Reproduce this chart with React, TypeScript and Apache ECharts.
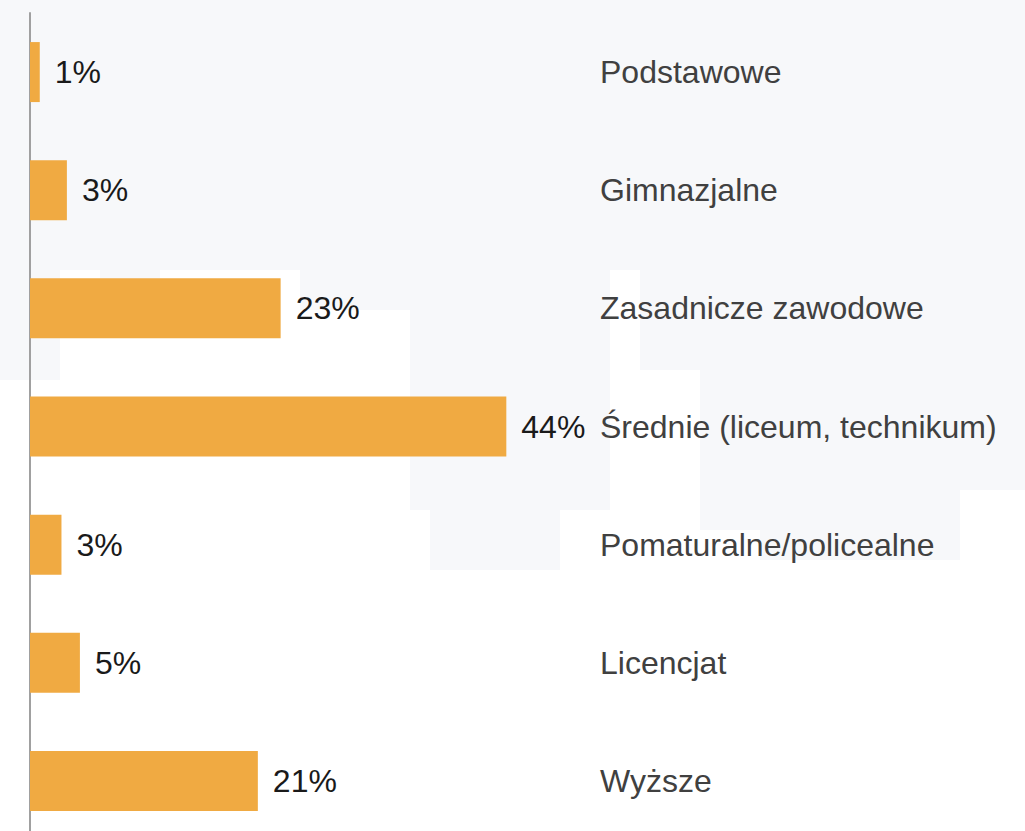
import React, { useEffect, useRef } from "react";
import * as echarts from "echarts";

const categories = [
  "Podstawowe",
  "Gimnazjalne",
  "Zasadnicze zawodowe",
  "Średnie (liceum, technikum)",
  "Pomaturalne/policealne",
  "Licencjat",
  "Wyższe",
];
const values = [0.9, 3.4, 23.1, 43.9, 2.9, 4.6, 21.0];

const SKY = "#f7f8fa";

export default function App() {
  const ref = useRef<HTMLDivElement>(null);
  useEffect(() => {
    if (!ref.current) return;
    const chart = echarts.init(ref.current, null, { renderer: "svg" });
    const sky = (x: number, y: number, w: number, h: number) => ({
      type: "rect",
      z: -10,
      silent: true,
      shape: { x, y, width: w, height: h },
      style: { fill: SKY },
    });
    chart.setOption({
      animation: false,
      backgroundColor: "#ffffff",
      graphic: [
        sky(0, 0, 1025, 270),
        sky(0, 270, 60, 110),
        sky(100, 270, 60, 60),
        sky(300, 270, 120, 40),
        sky(410, 270, 200, 240),
        sky(430, 510, 130, 60),
        sky(640, 270, 385, 100),
        sky(700, 370, 260, 160),
        sky(760, 530, 200, 30),
        sky(960, 370, 65, 120),
      ],
      grid: { left: 30, top: 13, height: 827, width: 542.5, containLabel: false },
      xAxis: {
        type: "value",
        min: 0,
        max: 50,
        show: false,
      },
      yAxis: {
        type: "category",
        inverse: true,
        data: categories,
        axisLine: { show: true, lineStyle: { color: "#a0a0a0", width: 2 } },
        axisTick: { show: false },
        splitLine: { show: false },
        axisLabel: {
          margin: -570,
          align: "left",
          color: "#404040",
          fontSize: 32,
          fontFamily: "Liberation Sans, Arial, sans-serif",
        },
      },
      series: [
        {
          type: "bar",
          data: values,
          barWidth: 60,
          itemStyle: { color: "#f0aa42" },
          label: {
            show: true,
            position: "right",
            distance: 15,
            color: "#1a1a1a",
            fontSize: 32,
            fontFamily: "Liberation Sans, Arial, sans-serif",
            formatter: (p: any) => Math.round(p.value) + "%",
          },
        },
      ],
    });
    return () => chart.dispose();
  }, []);
  return (
    <div
      ref={ref}
      style={{ position: "fixed", left: 0, top: 0, width: 1025, height: 850 }}
    />
  );
}
